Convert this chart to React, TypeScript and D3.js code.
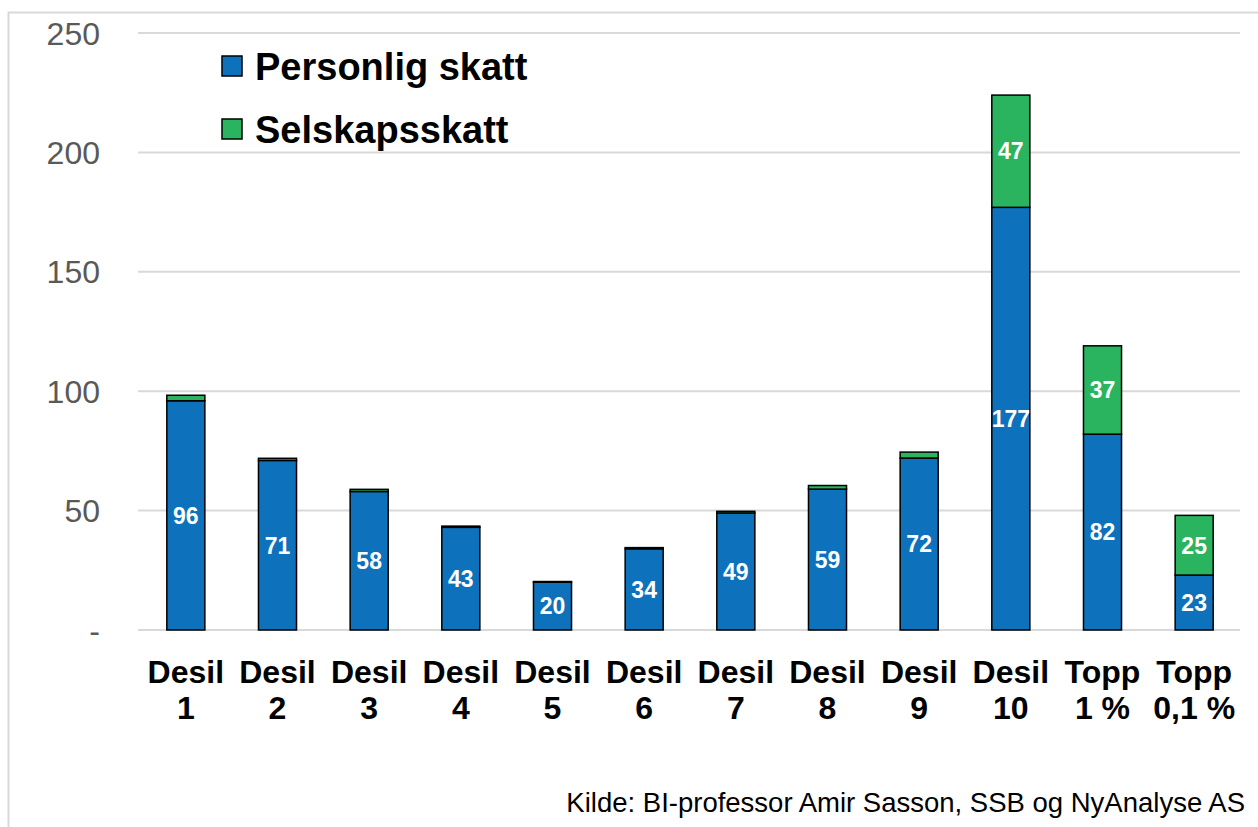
import React, { useEffect, useRef } from 'react';
import * as d3 from 'd3';

// categories (two-line labels)
const categories = ['Desil 1', 'Desil 2', 'Desil 3', 'Desil 4', 'Desil 5', 'Desil 6', 'Desil 7', 'Desil 8', 'Desil 9', 'Desil 10', 'Topp 1 %', 'Topp 0,1 %'];
const labelTop = ['Desil', 'Desil', 'Desil', 'Desil', 'Desil', 'Desil', 'Desil', 'Desil', 'Desil', 'Desil', 'Topp', 'Topp'];
const labelBottom = ['1', '2', '3', '4', '5', '6', '7', '8', '9', '10', '1 %', '0,1 %'];

// series values
const personligSkatt = [96, 71, 58, 43, 20, 34, 49, 59, 72, 177, 82, 23];
const selskapsskatt = [2.3, 0.9, 0.9, 0.5, 0.3, 0.5, 0.7, 1.5, 2.5, 47, 37, 25];

// y ticks
const yTicks = [0, 50, 100, 150, 200, 250];
const yTickLabels = ['-', '50', '100', '150', '200', '250'];

const seriesNames = ['Personlig skatt', 'Selskapsskatt'];
const BLUE = '#0e71bb';
const GREEN = '#2bb45f';
const FONT = '"Liberation Sans", Arial, sans-serif';

const App = () => {
  const ref = useRef<SVGSVGElement | null>(null);

  useEffect(() => {
    drawChart();
  }, []);

  const drawChart = () => {
    const svg = d3.select(ref.current);
    svg.selectAll('*').remove();

    // outer frame
    svg.append('rect')
      .attr('x', 8.5)
      .attr('y', 12.5)
      .attr('width', 1300)
      .attr('height', 900)
      .attr('fill', 'none')
      .attr('stroke', '#d9d9d9')
      .attr('stroke-width', 2);

    const x = d3.scaleBand()
      .domain(categories)
      .range([140, 1240])
      .paddingInner(0.585)
      .paddingOuter(0.2925);

    const y = d3.scaleLinear()
      .domain([0, 250])
      .range([630, 33]);

    // gridlines
    svg.append('g')
      .selectAll('line')
      .data(yTicks)
      .join('line')
      .attr('x1', 138)
      .attr('x2', 1240)
      .attr('y1', d => y(d))
      .attr('y2', d => y(d))
      .attr('stroke', '#d9d9d9')
      .attr('stroke-width', 2);

    // y tick labels
    svg.append('g')
      .selectAll('text')
      .data(yTicks)
      .join('text')
      .attr('x', 100)
      .attr('y', d => y(d))
      .attr('dy', '0.36em')
      .attr('text-anchor', 'end')
      .style('font-family', FONT)
      .style('font-size', '32px')
      .style('fill', '#595959')
      .text((d, i) => yTickLabels[i]);

    // stacked data
    const rows = categories.map((c, i) => ({ cat: c, personlig: personligSkatt[i], selskap: selskapsskatt[i] }));
    const stack = d3.stack<any>().keys(['personlig', 'selskap'])(rows);
    const colors = [BLUE, GREEN];

    stack.forEach((layer, li) => {
      const g = svg.append('g');
      g.selectAll('rect')
        .data(layer)
        .join('rect')
        .attr('x', d => x(d.data.cat)!)
        .attr('width', x.bandwidth())
        .attr('y', d => y(d[1]))
        .attr('height', d => y(d[0]) - y(d[1]))
        .attr('fill', colors[li])
        .attr('stroke', '#000')
        .attr('stroke-width', 1.5);

      g.selectAll('text')
        .data(layer.filter(d => d[1] - d[0] >= 5))
        .join('text')
        .attr('x', d => x(d.data.cat)! + x.bandwidth() / 2)
        .attr('y', d => y((d[0] + d[1]) / 2))
        .attr('dy', '0.36em')
        .attr('text-anchor', 'middle')
        .style('font-family', FONT)
        .style('font-size', '23px')
        .style('font-weight', 'bold')
        .style('fill', '#fff')
        .text(d => String(d[1] - d[0]));
    });

    // category labels
    const cat = svg.append('g');
    categories.forEach((c, i) => {
      const cx = x(c)! + x.bandwidth() / 2;
      cat.append('text')
        .attr('x', cx)
        .attr('y', 683)
        .attr('text-anchor', 'middle')
        .style('font-family', FONT)
        .style('font-size', '32px')
        .style('font-weight', 'bold')
        .style('fill', '#000')
        .text(labelTop[i]);
      cat.append('text')
        .attr('x', cx)
        .attr('y', 719)
        .attr('text-anchor', 'middle')
        .style('font-family', FONT)
        .style('font-size', '32px')
        .style('font-weight', 'bold')
        .style('fill', '#000')
        .text(labelBottom[i]);
    });

    // legend
    const legend = svg.append('g').attr('transform', 'translate(222, 56)');
    seriesNames.forEach((name, i) => {
      legend.append('rect')
        .attr('x', 0)
        .attr('y', i * 63)
        .attr('width', 20)
        .attr('height', 20)
        .attr('fill', colors[i])
        .attr('stroke', '#000')
        .attr('stroke-width', 1.5);
      legend.append('text')
        .attr('x', 33)
        .attr('y', i * 63 + 10)
        .attr('dy', '0.36em')
        .style('font-family', FONT)
        .style('font-size', '38px')
        .style('font-weight', 'bold')
        .style('fill', '#000')
        .text(name);
    });

    // source
    svg.append('text')
      .attr('x', 1245)
      .attr('y', 812)
      .attr('text-anchor', 'end')
      .style('font-family', FONT)
      .style('font-size', '27.5px')
      .style('fill', '#000')
      .text('Kilde: BI-professor Amir Sasson, SSB og NyAnalyse AS');
  };

  return (
    <svg
      ref={ref}
      width={1258}
      height={827}
      style={{ position: 'absolute', left: 0, top: 0, background: '#fff' }}
    />
  );
};

export default App;
